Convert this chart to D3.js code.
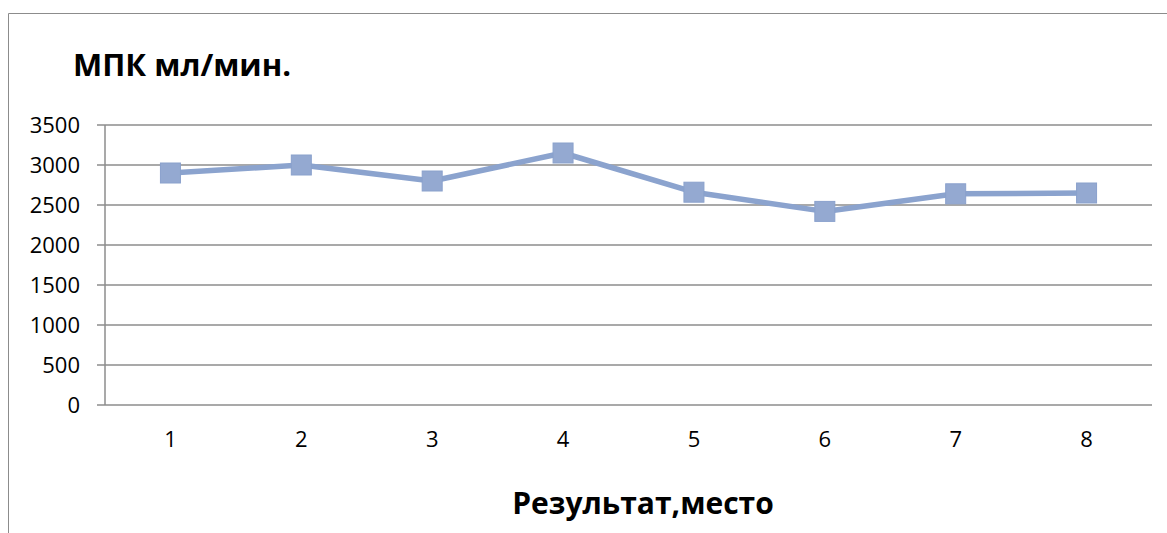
<!DOCTYPE html>
<html><head><meta charset="utf-8">
<script src="https://cdn.jsdelivr.net/npm/d3@7"></script>
<style>body{margin:0;background:#fff;}svg{display:block;font-family:"Open Sans","Noto Sans",sans-serif;}</style>
</head><body>
<svg id="c" width="1167" height="533"></svg>
<script>
const categories = ["1","2","3","4","5","6","7","8"];
const values = [2900, 3000, 2800, 3150, 2660, 2420, 2640, 2650];
const yTicks = [0, 500, 1000, 1500, 2000, 2500, 3000, 3500];
const title = "МПК мл/мин.";
const xTitle = "Результат,место";

const svg = d3.select("#c");
// chart border
svg.append("path").attr("d","M8.5,540V13.5H1175").attr("fill","none").attr("stroke","#8c8c8c").attr("stroke-width",1);

const m = {l:105, r:1152, t:125, b:405};
const x = d3.scaleBand().domain(categories).range([m.l, m.r]);
const y = d3.scaleLinear().domain([0, 3500]).range([m.b, m.t]);

// gridlines
svg.append("g").selectAll("line").data(yTicks).join("line")
  .attr("x1", m.l-8).attr("x2", m.r)
  .attr("y1", d=>y(d)).attr("y2", d=>y(d))
  .attr("stroke","#8c8c8c").attr("stroke-width",1.5);
// y axis line
svg.append("line").attr("x1",m.l).attr("x2",m.l).attr("y1",m.t).attr("y2",m.b)
  .attr("stroke","#8c8c8c").attr("stroke-width",1.5);

// y labels
const yAxis = d3.axisLeft(y).tickValues(yTicks).tickFormat(d3.format("d")).tickSize(0).tickPadding(25);
const gy = svg.append("g").attr("transform",`translate(${m.l},0)`).call(yAxis);
gy.attr("font-size",22).attr("font-family","Open Sans, Noto Sans, sans-serif");
gy.select(".domain").remove();
gy.selectAll("text").attr("fill","#000");

// x labels
const xAxis = d3.axisBottom(x).tickSize(0).tickPadding(26);
const gx = svg.append("g").attr("transform",`translate(0,${m.b})`).call(xAxis);
gx.attr("font-size",22).attr("font-family","Open Sans, Noto Sans, sans-serif");
gx.select(".domain").remove();
gx.selectAll("text").attr("fill","#000");

// line
const line = d3.line().x((d,i)=>x(categories[i])+x.bandwidth()/2).y(d=>y(d));
svg.append("path").datum(values).attr("d",line).attr("fill","none")
  .attr("stroke","#8BA3CE").attr("stroke-width",5.5).attr("stroke-linejoin","round");
// markers
const ms = 20;
svg.append("g").selectAll("rect").data(values).join("rect")
  .attr("x",(d,i)=>x(categories[i])+x.bandwidth()/2-ms/2)
  .attr("y",d=>y(d)-ms/2).attr("width",ms).attr("height",ms)
  .attr("fill","#94A9D1").attr("stroke","#8AA1CC").attr("stroke-width",1);

// titles
svg.append("text").attr("x",73).attr("y",76).attr("font-size",31).attr("font-weight","bold").attr("fill","#000").text(title);
svg.append("text").attr("x",643).attr("y",514).attr("text-anchor","middle").attr("font-size",30).attr("font-weight","bold").attr("fill","#000").text(xTitle);
</script>
</body></html>
